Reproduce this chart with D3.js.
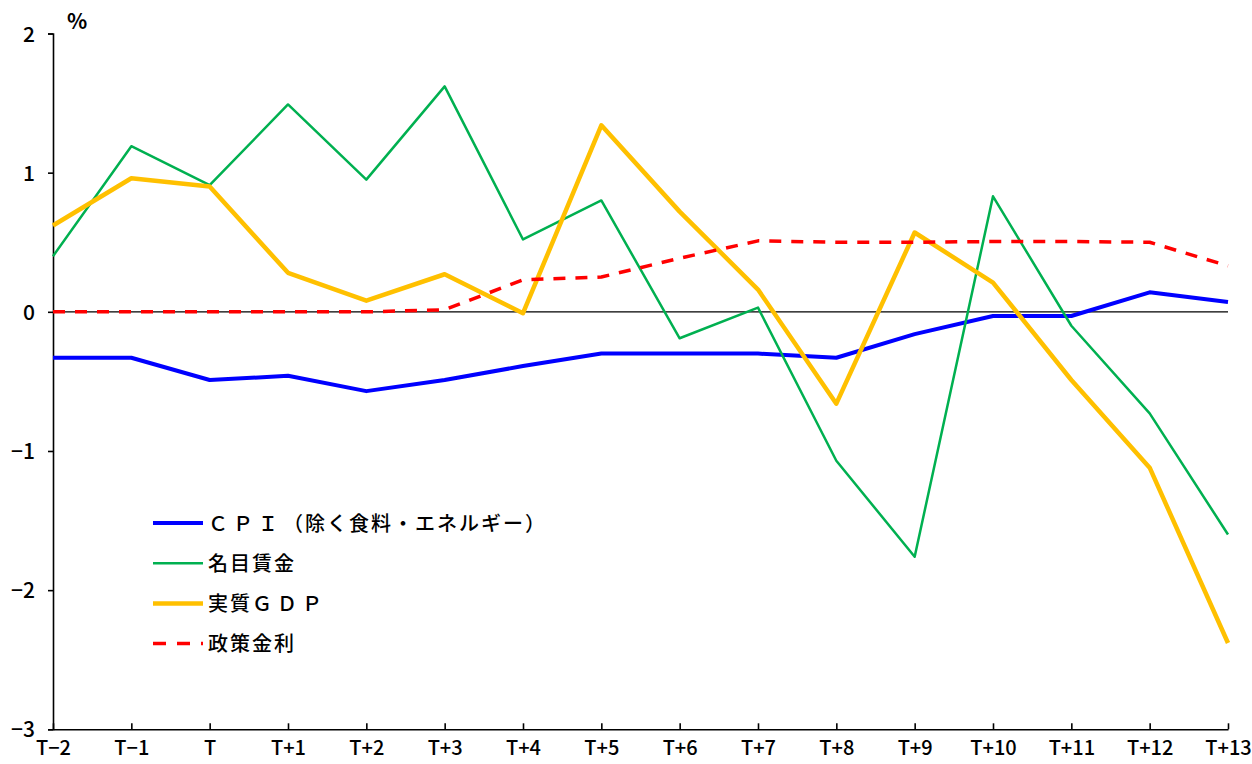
<!DOCTYPE html>
<html><head><meta charset="utf-8">
<script src="https://cdn.jsdelivr.net/npm/d3@7"></script>
<style>
html,body{margin:0;padding:0;background:#fff;}
svg{display:block;}
text{font-family:"Noto Sans CJK JP","Noto Sans",sans-serif;fill:#000;}
</style></head>
<body>
<svg id="chart" width="1252" height="764"></svg>
<script>
const categories = ["T−2","T−1","T","T+1","T+2","T+3","T+4","T+5","T+6","T+7","T+8","T+9","T+10","T+11","T+12","T+13"];
const cpi    = [-0.33,-0.33,-0.49,-0.46,-0.57,-0.49,-0.39,-0.30,-0.30,-0.30,-0.33,-0.16,-0.03,-0.03,0.14,0.07];
const wage   = [0.40,1.19,0.91,1.49,0.95,1.62,0.52,0.80,-0.19,0.03,-1.07,-1.76,0.83,-0.10,-0.73,-1.60];
const gdp    = [0.62,0.96,0.90,0.28,0.08,0.27,-0.01,1.34,0.72,0.16,-0.66,0.57,0.21,-0.49,-1.12,-2.38];
const policy = [0.00,0.00,0.00,0.00,0.00,0.015,0.23,0.25,0.385,0.51,0.50,0.50,0.505,0.505,0.50,0.33];
const yTicks = [2,1,0,-1,-2,-3];
const seriesNames = ["ＣＰＩ（除く食料・エネルギー）","名目賃金","実質ＧＤＰ","政策金利"];
const unitLabel = "%";

const series = [
  {name: seriesNames[0], values: cpi,    color:"#0000FF", width:4,   dash:null},
  {name: seriesNames[1], values: wage,   color:"#00B050", width:2.5, dash:null},
  {name: seriesNames[2], values: gdp,    color:"#FFC000", width:4.5, dash:null},
  {name: seriesNames[3], values: policy, color:"#FF0000", width:3.5, dash:"12,10"}
];

const svg = d3.select("#chart");
const x = d3.scalePoint().domain(categories).range([53, 1228]);
const y = d3.scaleLinear().domain([-3, 2]).range([729.3, 33.5]);

// zero line
svg.append("line")
  .attr("x1", x(categories[0])).attr("x2", x(categories[categories.length-1]))
  .attr("y1", y(0)).attr("y2", y(0))
  .attr("stroke","#000").attr("stroke-width",1.3);

// y axis
const yAxis = svg.append("g").attr("transform",`translate(${x(categories[0])},0)`)
  .call(d3.axisLeft(y).tickValues(yTicks).tickSize(5).tickPadding(13)
        .tickFormat(d => d < 0 ? "−" + Math.abs(d) : String(d)));
yAxis.select(".domain").attr("stroke","#000").attr("stroke-width",1.6);
yAxis.selectAll(".tick line").attr("stroke","#000").attr("stroke-width",1.6);
yAxis.selectAll(".tick text").attr("font-size",21).attr("font-family",null).attr("dy","0.36em")
  .style("font-weight",500);

// x axis
const xAxis = svg.append("g").attr("transform",`translate(0,${y(-3)})`)
  .call(d3.axisBottom(x).tickSizeInner(-6).tickSizeOuter(0).tickPadding(8));
xAxis.select(".domain").attr("stroke","#000").attr("stroke-width",1.6);
xAxis.selectAll(".tick line").attr("stroke","#000").attr("stroke-width",1.6);
xAxis.selectAll(".tick text").attr("font-size",20).attr("font-family",null).attr("dy","0.9em")
  .style("font-weight",500);

// unit label
svg.append("text").attr("x",67).attr("y",29).attr("font-size",21)
  .style("font-weight",700).text(unitLabel);

// lines
const line = d3.line().x((d,i)=>x(categories[i])).y(d=>y(d));
series.forEach(s=>{
  svg.append("path").datum(s.values)
    .attr("d", line)
    .attr("fill","none")
    .attr("stroke", s.color)
    .attr("stroke-width", s.width)
    .attr("stroke-linejoin","round")
    .attr("stroke-dasharray", s.dash);
});

// legend
const legY0 = 523, legStep = 40.2;
series.forEach((s,i)=>{
  const ly = legY0 + i*legStep;
  svg.append("line").attr("x1",153).attr("x2",203).attr("y1",ly).attr("y2",ly)
    .attr("stroke",s.color).attr("stroke-width",s.width)
    .attr("stroke-dasharray", s.dash ? "13,11" : null);
  const t = svg.append("text").attr("x",208).attr("y",ly).attr("dy","0.38em")
    .attr("font-size",20).style("font-weight",500);
  const parts = s.name.match(/[Ａ-Ｚ]+|[^Ａ-Ｚ]+/g);
  parts.forEach(p=>{
    t.append("tspan").attr("letter-spacing", /[Ａ-Ｚ]/.test(p) ? "5px" : "2px").text(p);
  });
});
</script>
</body></html>
